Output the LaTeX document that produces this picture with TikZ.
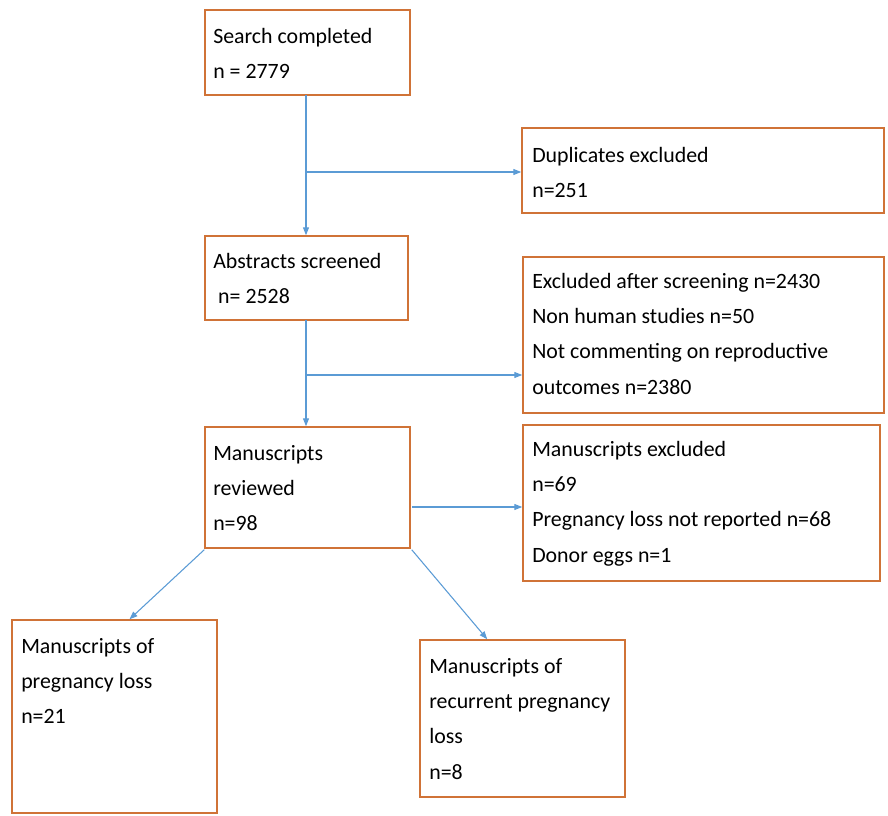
\documentclass[tikz,border=0pt]{standalone}
\usepackage{fontspec}
\setmainfont{Carlito}
\usetikzlibrary{arrows.meta,calc}
\definecolor{boxorange}{RGB}{208,115,55}
\definecolor{arrowblue}{RGB}{91,155,213}
\newcommand\ml[1]{\vtop{\baselineskip=26.6pt\lineskiplimit=-20pt\lineskip=0pt\halign{##\hfil\cr#1\crcr}}}
\tikzset{
  box/.style={draw=boxorange, line width=1.1pt, fill=white, rectangle, inner sep=0pt},
  txt/.style={anchor=base west, inner sep=0pt, font=\fontsize{16.4pt}{26.6pt}\selectfont},
  flow/.style={draw=arrowblue, line width=0.8pt, -{Triangle[length=6pt,width=4.5pt]}},
  plain/.style={draw=arrowblue, line width=0.8pt}
}
\begin{document}
\begin{tikzpicture}[x=0.75pt,y=-0.75pt]
\useasboundingbox (0,0) rectangle (888,815);
% boxes
\node[box, minimum width=153.75pt, minimum height=63.75pt] (b1) at (307.5,52.5) {};
\node[box, minimum width=271.5pt, minimum height=63.75pt] (b2) at (703,170.5) {};
\node[box, minimum width=152.25pt, minimum height=63pt] (b3) at (306.5,278) {};
\node[box, minimum width=270.75pt, minimum height=117pt] (b4) at (703.5,335) {};
\node[box, minimum width=153.75pt, minimum height=90.75pt] (b5) at (307.5,487.5) {};
\node[box, minimum width=267.75pt, minimum height=117pt] (b6) at (701.5,503) {};
\node[box, minimum width=153.75pt, minimum height=144.75pt] (b7) at (114.5,716.5) {};
\node[box, minimum width=153.75pt, minimum height=117.75pt] (b8) at (522.5,718.5) {};
% texts
\node[txt] (t1) at (213,43) {\ml{Search completed\cr n = 2779}};
\node[txt] (t2) at (532,162) {\ml{Duplicates excluded\cr n=251}};
\node[txt] (t3) at (213,268) {\ml{Abstracts screened\cr \ n= 2528}};
\node[txt] (t4) at (532,288) {\ml{Excluded after screening n=2430\cr Non human studies n=50\cr Not commenting on reproductive\cr outcomes n=2380}};
\node[txt] (t5) at (213,460) {\ml{Manuscripts\cr reviewed\cr n=98}};
\node[txt] (t6) at (532,456) {\ml{Manuscripts excluded\cr n=69\cr Pregnancy loss not reported n=68\cr Donor eggs n=1}};
\node[txt] (t7) at (21,653) {\ml{Manuscripts of\cr pregnancy loss\cr n=21}};
\node[txt] (t8) at (429,673) {\ml{Manuscripts of\cr recurrent pregnancy\cr loss\cr n=8}};
% connectors
\coordinate (s1) at (306,95);
\coordinate (j1) at (306,172);
\coordinate (s2) at (306,320);
\coordinate (j2) at (306,375);
\coordinate (j3) at (412,507);
\draw[flow] (s1) -- (s1 |- b3.north);
\draw[flow] (j1) -- (j1 -| b2.west);
\draw[flow] (s2) -- (s2 |- b5.north);
\draw[flow] (j2) -- (j2 -| b4.west);
\draw[flow] (j3) -- (j3 -| b6.west);
\draw[flow] ($(b5.south west)+(0,1)$) -- ($(b7.north)+(15,0)$);
\draw[flow] ($(b5.south east)+(1,1)$) -- ($(b8.north west)+(68,0)$);
\end{tikzpicture}
\end{document}
